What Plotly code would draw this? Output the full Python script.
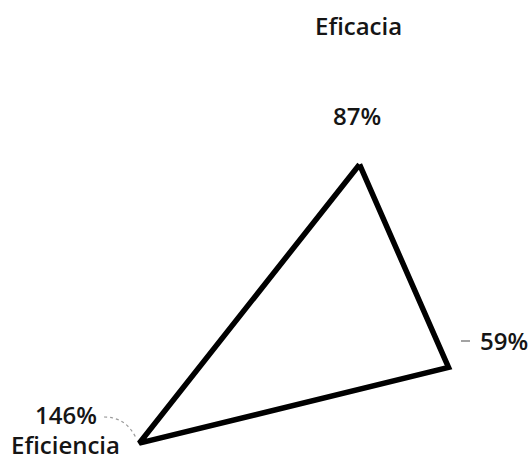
import math
import plotly.graph_objects as go

# ---- data ----
axis_names = ["Eficacia", "", "Eficiencia"]
values = [87, 59, 146]
value_labels = ["87%", "59%", "146%"]

W, H = 532, 462
n = len(values)

# radar geometry: axes every 360/n degrees, clockwise from the top
angles = [2 * math.pi * i / n for i in range(n)]
xs = [v * math.sin(a) for v, a in zip(values, angles)]
ys = [v * math.cos(a) for v, a in zip(values, angles)]

# layout: centre of the radar in px (from top-left) and scale
cx, cy = 359.5, 316.0
k = 1.742  # px per percentage point

fig = go.Figure()
fig.add_trace(go.Scatter(
    x=xs + xs[:1],
    y=ys + ys[:1],
    mode="lines",
    line=dict(color="#000000", width=5.5),
    hoverinfo="skip",
    showlegend=False,
    cliponaxis=False,
))

def px(x):
    return x / W

def py(y):
    return 1 - y / H

def font(weight):
    return dict(family="Open Sans, DejaVu Sans, sans-serif", size=24,
                color="#151515", weight=weight)

annotations = [
    dict(x=px(358), y=py(26), text=axis_names[0], xanchor="center", yanchor="middle", font=font(600)),
    dict(x=px(357), y=py(116), text=value_labels[0], xanchor="center", yanchor="middle", font=font(600)),
    dict(x=px(529), y=py(340), text=value_labels[1], xanchor="right", yanchor="middle", font=font(600)),
    dict(x=px(66), y=py(414), text=value_labels[2], xanchor="center", yanchor="middle", font=font(600)),
    dict(x=px(65), y=0, text=axis_names[2], xanchor="center", yanchor="bottom", font=font(600)),
]
for a in annotations:
    a.update(xref="paper", yref="paper", showarrow=False, borderpad=0)

shapes = [
    dict(type="line", xref="paper", yref="paper",
         x0=px(461), y0=py(341), x1=px(470), y1=py(341),
         line=dict(color="#666666", width=1.2)),
    dict(type="path", xref="paper", yref="paper",
         path=f"M {px(104)},{py(417)} Q {px(126)},{py(417)} {px(136)},{py(438)}",
         line=dict(color="#9a9a9a", width=1.2, dash="dot")),
]

fig.update_layout(
    width=W, height=H,
    margin=dict(l=0, r=0, t=0, b=0),
    paper_bgcolor="white",
    plot_bgcolor="white",
    xaxis=dict(range=[-cx / k, (W - cx) / k], visible=False, fixedrange=True),
    yaxis=dict(range=[-(H - cy) / k, cy / k], visible=False, fixedrange=True),
    annotations=annotations,
    shapes=shapes,
)

fig.write_html(
    "out.html",
    config={"displayModeBar": False, "staticPlot": True},
    post_script="document.body.style.margin='0';document.body.style.overflow='hidden';",
)
